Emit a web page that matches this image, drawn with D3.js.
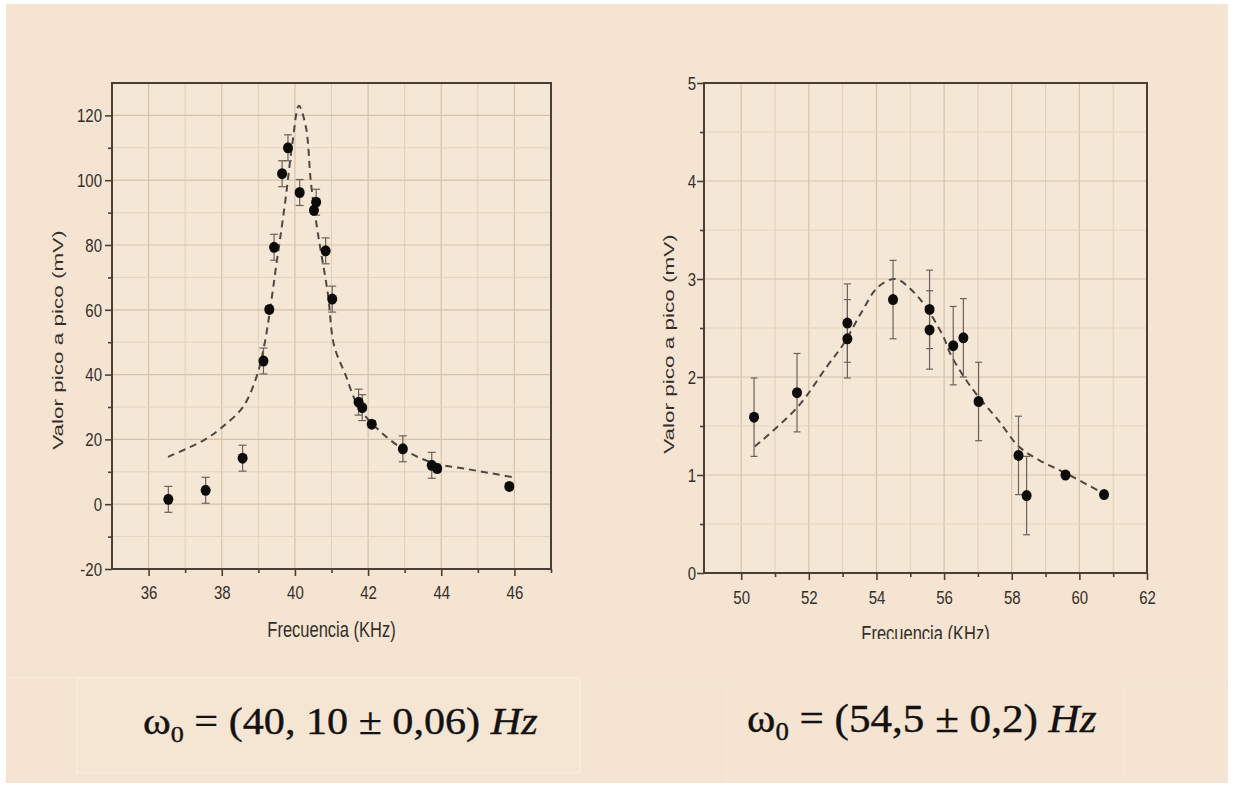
<!DOCTYPE html>
<html>
<head>
<meta charset="utf-8">
<script src="https://cdn.jsdelivr.net/npm/d3@7"></script>
<style>
  body { margin: 0; background: #fff; }
  svg { display: block; }
</style>
</head>
<body>
<div id="chart"></div>
<script>
// Left panel: first resonance
const freqA = [36.54, 37.56, 38.57, 39.14, 39.30, 39.43, 39.65, 39.81, 40.13, 40.52, 40.58, 40.84, 41.02, 41.74, 41.84, 42.10, 42.95, 43.74, 43.89, 45.86];
const peakA = [1.5, 4.3, 14.2, 44.2, 60.1, 79.3, 102, 110, 96.2, 90.7, 93.2, 78.2, 63.3, 31.5, 29.8, 24.7, 17.1, 12.0, 11.0, 5.5];
const errA  = [4, 4, 4, 4, 1, 4, 4, 4, 4, 1, 4, 4, 4, 4, 4, 1, 4, 4, 1, 1];
const fitFreqA = [36.53, 37.55, 38.0, 38.58, 38.95, 39.17, 39.51, 39.74, 39.93, 40.11, 40.3, 40.44, 40.63, 40.9, 41.07, 41.37, 41.74, 42.3, 43.0, 43.79, 44.63, 45.93];
const fitPeakA = [14.6, 20.0, 23.7, 30.0, 39.3, 49.5, 75.3, 93.8, 111.3, 123.0, 116.4, 99.0, 83.5, 65.0, 49.0, 40.3, 30.0, 22.8, 16.7, 12.7, 11.0, 8.4];
const xTicksA = [36, 38, 40, 42, 44, 46];
const xMinorA = [37, 39, 41, 43, 45, 47];
const yTicksA = [-20, 0, 20, 40, 60, 80, 100, 120];
const yMinorA = [-10, 10, 30, 50, 70, 90, 110];

// Right panel: second resonance
const freqB = [50.38, 51.65, 53.14, 53.14, 54.49, 55.57, 55.57, 56.27, 56.57, 57.02, 58.20, 58.44, 59.59, 60.73];
const peakB = [1.59, 1.84, 2.55, 2.39, 2.79, 2.69, 2.48, 2.32, 2.40, 1.75, 1.20, 0.79, 1.00, 0.80];
const errB  = [0.4, 0.4, 0.4, 0.4, 0.4, 0.4, 0.4, 0.4, 0.4, 0.4, 0.4, 0.4, 0.02, 0.02];
const fitFreqB = [50.4, 51.66, 52.52, 53.03, 53.54, 54.05, 54.56, 55.06, 55.47, 55.98, 56.18, 56.59, 57.01, 57.6, 58.21, 58.82, 59.59, 60.72];
const fitPeakB = [1.29, 1.69, 2.1, 2.34, 2.65, 2.92, 3.0, 2.88, 2.71, 2.41, 2.24, 2.0, 1.8, 1.56, 1.29, 1.15, 1.02, 0.81];
const xTicksB = [50, 52, 54, 56, 58, 60, 62];
const xMinorB = [51, 53, 55, 57, 59, 61];
const yTicksB = [0, 1, 2, 3, 4, 5];
const yMinorB = [0.5, 1.5, 2.5, 3.5, 4.5];

const xLabel = "Frecuencia (KHz)";
const yLabel = "Valor pico a pico (mV)";

const width = 1233;
const height = 787;

const svg = d3.select("#chart")
  .append("svg")
  .attr("width", width)
  .attr("height", height);

// page background
svg.append("rect")
  .attr("x", 6).attr("y", 4)
  .attr("width", width - 11).attr("height", height - 8)
  .attr("fill", "#f4e4d1");

const axisColor = "#4a3f36";
const textColor = "#332e2a";
const sans = "'Liberation Sans', Arial, sans-serif";

function drawPanel(cfg) {
  const g = svg.append("g");
  if (cfg.clipY) {
    const id = "clip-" + cfg.name;
    svg.append("clipPath").attr("id", id)
      .append("rect").attr("x", 0).attr("y", 0).attr("width", width).attr("height", cfg.clipY);
    g.attr("clip-path", `url(#${id})`);
  }

  const x = d3.scaleLinear().domain(cfg.xDomain).range(cfg.xRange);
  const y = d3.scaleLinear().domain(cfg.yDomain).range(cfg.yRange);
  const [x0, x1] = cfg.xRange;
  const [y0, y1] = cfg.yRange;

  // plot area
  g.append("rect")
    .attr("x", x0).attr("y", y1)
    .attr("width", x1 - x0).attr("height", y0 - y1)
    .attr("fill", "#f5e7d5");

  // grid
  const vMajor = cfg.xTicks.filter(d => x(d) > x0 + 2 && x(d) < x1 - 2);
  const vMinor = cfg.xMinor.filter(d => x(d) > x0 + 2 && x(d) < x1 - 2);
  g.selectAll(".vminor").data(vMinor).join("line")
    .attr("x1", d => x(d)).attr("x2", d => x(d))
    .attr("y1", y1).attr("y2", y0)
    .attr("stroke", "#e0cfba").attr("stroke-width", 1);
  g.selectAll(".vmajor").data(vMajor).join("line")
    .attr("x1", d => x(d)).attr("x2", d => x(d))
    .attr("y1", y1).attr("y2", y0)
    .attr("stroke", "#d6c2a9").attr("stroke-width", 1.2);
  g.selectAll(".hminor").data(cfg.yMinor).join("line")
    .attr("x1", x0).attr("x2", x1)
    .attr("y1", d => y(d)).attr("y2", d => y(d))
    .attr("stroke", "#e3d3be").attr("stroke-width", 1);
  g.selectAll(".hmajor").data(cfg.yTicks.filter(d => y(d) < y0 - 2 && y(d) > y1 + 2)).join("line")
    .attr("x1", x0).attr("x2", x1)
    .attr("y1", d => y(d)).attr("y2", d => y(d))
    .attr("stroke", "#d6c2a9").attr("stroke-width", 1.2);

  // fitted curve
  const line = d3.line()
    .x(d => x(d[0]))
    .y(d => y(d[1]))
    .curve(d3.curveCatmullRom.alpha(0.5));
  g.append("path")
    .datum(cfg.fitFreq.map((f, i) => [f, cfg.fitPeak[i]]))
    .attr("fill", "none")
    .attr("stroke", "#4d4741")
    .attr("stroke-width", 2)
    .attr("stroke-dasharray", "7,5")
    .attr("d", line);

  // data with error bars
  const pts = cfg.freq.map((f, i) => ({ f: f, v: cfg.peak[i], e: cfg.err[i] }));
  const eb = g.selectAll(".err").data(pts).join("g").attr("class", "err")
    .attr("stroke", "#6a625b").attr("stroke-width", 1.2);
  eb.append("line")
    .attr("x1", d => x(d.f)).attr("x2", d => x(d.f))
    .attr("y1", d => y(d.v - d.e)).attr("y2", d => y(d.v + d.e));
  eb.append("line")
    .attr("x1", d => x(d.f) - cfg.cap).attr("x2", d => x(d.f) + cfg.cap)
    .attr("y1", d => y(d.v + d.e)).attr("y2", d => y(d.v + d.e));
  eb.append("line")
    .attr("x1", d => x(d.f) - cfg.cap).attr("x2", d => x(d.f) + cfg.cap)
    .attr("y1", d => y(d.v - d.e)).attr("y2", d => y(d.v - d.e));

  g.selectAll(".pt").data(pts).join("ellipse")
    .attr("cx", d => x(d.f)).attr("cy", d => y(d.v))
    .attr("rx", 5).attr("ry", 5.5)
    .attr("fill", "#0d0b0a");

  // axes
  function styleAxis(sel) {
    sel.select(".domain").remove();
    sel.selectAll(".tick line").attr("stroke", axisColor).attr("stroke-width", 1.6);
  }
  const bottom = g.append("g")
    .attr("transform", `translate(0,${y0})`)
    .call(d3.axisBottom(x).tickValues(cfg.xTicks).tickSize(7).tickSizeOuter(0).tickFormat(d => String(d)))
    .call(styleAxis);
  bottom.selectAll(".tick text")
    .attr("y", 0).attr("dy", "0.35em")
    .attr("transform", `translate(0,${cfg.xLabelOff}) scale(1,1.2)`)
    .attr("fill", textColor).attr("font-size", 15).attr("font-family", sans);
  g.append("g")
    .attr("transform", `translate(0,${y0})`)
    .call(d3.axisBottom(x).tickValues(cfg.xMinor).tickSize(4).tickSizeOuter(0).tickFormat(""))
    .call(styleAxis);

  const left = g.append("g")
    .attr("transform", `translate(${x0},0)`)
    .call(d3.axisLeft(y).tickValues(cfg.yTicks).tickSize(7).tickSizeOuter(0).tickFormat(d => String(d)))
    .call(styleAxis);
  left.selectAll(".tick text")
    .attr("x", 0).attr("dy", "0.35em")
    .attr("transform", `translate(${-cfg.yLabelOff},0) scale(1,1.2)`)
    .attr("fill", textColor).attr("font-size", 15).attr("font-family", sans);
  g.append("g")
    .attr("transform", `translate(${x0},0)`)
    .call(d3.axisLeft(y).tickValues(cfg.yMinor).tickSize(4).tickSizeOuter(0).tickFormat(""))
    .call(styleAxis);

  // frame
  g.append("rect")
    .attr("x", x0).attr("y", y1)
    .attr("width", x1 - x0).attr("height", y0 - y1)
    .attr("fill", "none")
    .attr("stroke", axisColor).attr("stroke-width", 2);

  // axis titles
  g.append("text")
    .attr("transform", `translate(${(x0 + x1) / 2},${cfg.xTitleY}) scale(1,1.3)`)
    .attr("text-anchor", "middle")
    .attr("font-family", sans).attr("font-size", 16.5)
    .attr("fill", textColor)
    .text(xLabel);
  g.append("text")
    .attr("transform", `translate(${cfg.yTitleX},${cfg.yTitleY}) rotate(-90) scale(1.5,1)`)
    .attr("text-anchor", "middle")
    .attr("font-family", sans).attr("font-size", 15)
    .attr("fill", textColor)
    .text(yLabel);
}

drawPanel({
  name: "a",
  freq: freqA, peak: peakA, err: errA,
  fitFreq: fitFreqA, fitPeak: fitPeakA,
  xTicks: xTicksA, xMinor: xMinorA, yTicks: yTicksA, yMinor: yMinorA,
  xDomain: [35, 47], xRange: [112, 551],
  yDomain: [-20, 130], yRange: [569, 83],
  cap: 4, xLabelOff: 24, yLabelOff: 10,
  xTitleY: 637, yTitleX: 63, yTitleY: 340
});

drawPanel({
  name: "b",
  freq: freqB, peak: peakB, err: errB,
  fitFreq: fitFreqB, fitPeak: fitPeakB,
  xTicks: xTicksB, xMinor: xMinorB, yTicks: yTicksB, yMinor: yMinorB,
  xDomain: [48.9, 62], xRange: [704, 1147],
  yDomain: [0, 5], yRange: [573, 83],
  cap: 3.5, xLabelOff: 25, yLabelOff: 8,
  xTitleY: 641, yTitleX: 674, yTitleY: 344, clipY: 639
});

// bottom band with the fitted resonance values
svg.append("line")
  .attr("x1", 6).attr("x2", 77).attr("y1", 678).attr("y2", 678)
  .attr("stroke", "#f7ecdf").attr("stroke-width", 1);
svg.append("rect")
  .attr("x", 77).attr("y", 678).attr("width", 503).attr("height", 95)
  .attr("fill", "#f5e6d4")
  .attr("stroke", "#f8eee2").attr("stroke-width", 1.2);
svg.append("path")
  .attr("d", "M613,683H726V783M1123,783V683H1228")
  .attr("fill", "none")
  .attr("stroke", "#f6eadc").attr("stroke-width", 1);

const serif = "'Liberation Serif', 'Times New Roman', serif";
function formula(x0, base, size, body, target) {
  const t = svg.append("text")
    .attr("x", x0).attr("y", base)
    .attr("font-family", serif).attr("font-size", size)
    .attr("fill", "#141211")
    .attr("stroke", "#141211").attr("stroke-width", 0.4);
  t.append("tspan").text("ω");
  t.append("tspan").attr("font-size", size * 0.62).attr("dy", size * 0.2).text("0");
  t.append("tspan").attr("dy", -size * 0.2).text(" = " + body + " ");
  t.append("tspan").attr("font-style", "italic").text("Hz");
  const w = t.node().getBBox().width;
  t.attr("transform", `translate(${x0},${base}) scale(${target / w},1) translate(${-x0},${-base})`);
}
formula(143, 734, 38, "(40, 10 ± 0,06)", 395);
formula(747, 732, 40, "(54,5 ± 0,2)", 350);
</script>
</body>
</html>
